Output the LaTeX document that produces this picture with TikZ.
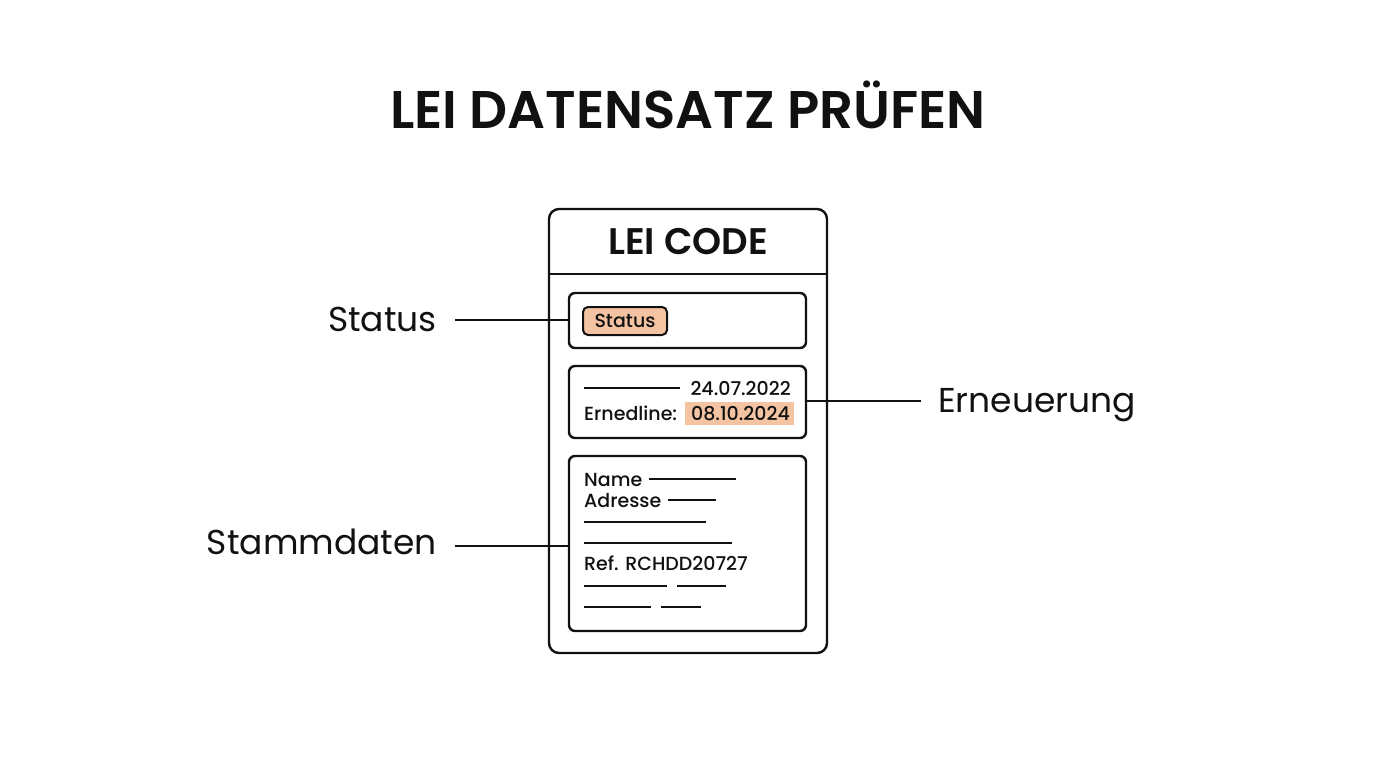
\documentclass[tikz,border=0pt]{standalone}
\usepackage{fontspec}
\setmainfont{Poppins}[BoldFont={Poppins SemiBold}]
\newfontfamily\medfont{Poppins Medium}
\definecolor{peach}{HTML}{F4C4A2}
\definecolor{ink}{HTML}{111111}
\begin{document}
\begin{tikzpicture}[x=1pt,y=-1pt,
  box/.style={draw=ink,line width=2.4pt,rounded corners=6pt},
  conn/.style={draw=ink,line width=2.2pt},
  fill line/.style={draw=ink,line width=2.2pt},
  lbl/.style={font=\fontsize{34.5}{40}\selectfont,text=ink,inner sep=0pt},
  small/.style={font=\medfont\fontsize{19}{22}\selectfont,text=ink,inner sep=0pt,anchor=base west}]
\useasboundingbox (0,0) rectangle (1376,768);
\fill[white] (0,0) rectangle (1376,768);
% title
\node[font=\fontsize{53}{60}\selectfont\bfseries,text=ink,inner sep=0pt] (title) at (688,105) {LEI DATENSATZ PRÜFEN};
% card
\draw[box,rounded corners=10pt] (549,209) rectangle (827,653);
\coordinate (hl) at (549,274); \coordinate (hr) at (827,274);
\draw[conn] (hl) -- (hr);
\node[font=\fontsize{37}{42}\selectfont\bfseries,text=ink,inner sep=0pt] (code) at (688,242) {LEI CODE};
% status box
\node[box,minimum width=237pt,minimum height=55pt,inner sep=0pt] (sbox) at (687.5,320.5) {};
\node[draw=ink,line width=2pt,fill=peach,rounded corners=5pt,minimum width=84pt,minimum height=28pt,inner sep=0pt,font=\medfont\fontsize{19}{21}\selectfont,text=ink] (badge) at (625,321) {Status};
% date box
\node[box,minimum width=237pt,minimum height=72pt,inner sep=0pt] (dbox) at (687.5,402) {};
\coordinate (d1a) at (584,388); \coordinate (d1b) at (680,388);
\draw[fill line] (d1a) -- (d1b);
\node[small,anchor=base east] (date1) at (791,395) {24.07.2022};
\fill[peach] (685,402) rectangle (794,425);
\node[small] (ern) at (584,420) {Ernedline:};
\node[small,anchor=base east] (date2) at (790,420) {08.10.2024};
% stammdaten box
\node[box,minimum width=237pt,minimum height=175pt,inner sep=0pt] (mbox) at (687.5,543.5) {};
\node[small] (name) at (584,486) {Name};
\coordinate (n1) at (649,479); \coordinate (n2) at (736,479);
\draw[fill line] (n1) -- (n2);
\node[small] (adr) at (584,507) {Adresse};
\coordinate (a1) at (668,500); \coordinate (a2) at (716,500);
\draw[fill line] (a1) -- (a2);
\coordinate (l1a) at (584,522); \coordinate (l1b) at (706,522);
\draw[fill line] (l1a) -- (l1b);
\coordinate (l2a) at (584,543); \coordinate (l2b) at (732,543);
\draw[fill line] (l2a) -- (l2b);
\node[small] (ref) at (584,570) {Ref. RCHDD20727};
\coordinate (l3a) at (584,586); \coordinate (l3b) at (667,586);
\coordinate (l3c) at (677,586); \coordinate (l3d) at (726,586);
\draw[fill line] (l3a) -- (l3b) (l3c) -- (l3d);
\coordinate (l4a) at (584,607); \coordinate (l4b) at (651,607);
\coordinate (l4c) at (661,607); \coordinate (l4d) at (701,607);
\draw[fill line] (l4a) -- (l4b) (l4c) -- (l4d);
% labels
\node[lbl,anchor=base east] (lstatus) at (437,331) {Status};
\node[lbl,anchor=base west] (lern) at (938,412) {Erneuerung};
\node[lbl,anchor=base east] (lstamm) at (437,554) {Stammdaten};
\coordinate (cs) at (455,320); \coordinate (ce) at (921,401); \coordinate (cm) at (455,546);
\draw[conn] (cs) -- (sbox.west |- cs);
\draw[conn] (dbox.east |- ce) -- (ce);
\draw[conn] (cm) -- (mbox.west |- cm);
\end{tikzpicture}
\end{document}
